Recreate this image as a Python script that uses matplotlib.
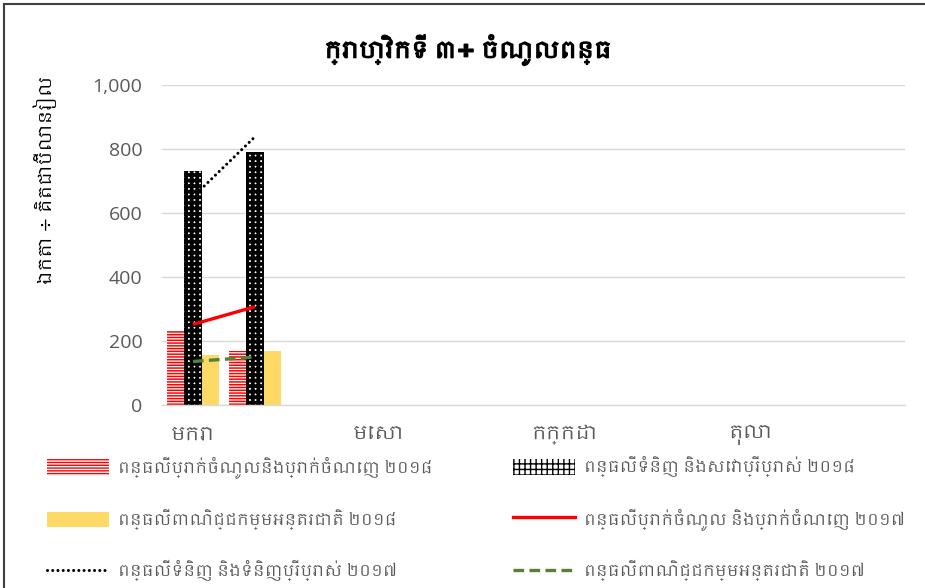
import matplotlib
matplotlib.use("Agg")
import matplotlib.pyplot as plt
from matplotlib import font_manager as fm
from matplotlib import patheffects as pe
from matplotlib.patches import Patch
from matplotlib.lines import Line2D
import numpy as np

# ---------------- data ----------------
months = ["មករា", "កុម្ភៈ", "មីនា", "មេសា", "ឧសភា", "មិថុនា",
          "កក្កដា", "សីហា", "កញ្ញា", "តុលា", "វិច្ឆិកា", "ធ្នូ"]
tick_months = ["មករា", "មេសា", "កក្កដា", "តុលា"]
income_2018 = [235, 170]
goods_2018 = [730, 792]
trade_2018 = [156, 170]
income_2017 = [252, 307]
goods_2017 = [650, 838]
trade_2017 = [136, 150]
y_ticks = [0, 200, 400, 600, 800, 1000]
title = "ក្រាហ្វិកទី ៣÷ ចំណូលពន្ធ"
ylabel = "ឯកតា ÷ គិតជាប៊ីលានរៀល"
labels = [
    "ពន្ធលើប្រាក់ចំណូលនិងប្រាក់ចំណេញ ២០១៨",
    "ពន្ធលើទំនិញ និងសេវាប្រើប្រាស់ ២០១៨",
    "ពន្ធលើពាណិជ្ជកម្មអន្តរជាតិ ២០១៨",
    "ពន្ធលើប្រាក់ចំណូល និងប្រាក់ចំណេញ ២០១៧",
    "ពន្ធលើទំនិញ និងទំនិញប្រើប្រាស់ ២០១៧",
    "ពន្ធលើពាណិជ្ជកម្មអន្តរជាតិ ២០១៧",
]

# ---------------- fonts ----------------
khmer = None
for f in fm.fontManager.ttflist:
    if "khmer" in f.name.lower() or "khmer" in f.fname.lower():
        khmer = f.name
        break
kh_family = [khmer, "DejaVu Sans"] if khmer else ["DejaVu Sans"]
plt.rcParams["font.family"] = kh_family

GRAY = "#595959"
RED = "#FF0000"
YELLOW = "#FFD966"
GREEN = "#548235"
HLW_RED = 1.1
HLW_BLK = 2.7


def set_hlw(artist, lw):
    try:
        artist.set_hatch_linewidth(lw)
    except AttributeError:
        pass


fig = plt.figure(figsize=(9.25, 5.88), dpi=100)
ax = fig.add_axes([162 / 925, 1 - 405 / 588, (905 - 162) / 925, 320 / 588])

x = np.arange(len(income_2018))
w = 0.283

with plt.rc_context({"hatch.linewidth": HLW_RED}):
    b1 = ax.bar(x - w, income_2018, w, facecolor="white", edgecolor=RED,
                hatch="------", linewidth=0, zorder=2)
for p in b1:
    set_hlw(p, HLW_RED)
with plt.rc_context({"hatch.linewidth": HLW_BLK}):
    b2 = ax.bar(x, goods_2018, w, facecolor="white", edgecolor="black",
                hatch="+++", linewidth=0, zorder=2)
for p in b2:
    set_hlw(p, HLW_BLK)
b3 = ax.bar(x + w, trade_2018, w, color=YELLOW, linewidth=0, zorder=2)

ax.plot(x, income_2017, color=RED, lw=2.4, zorder=3, solid_capstyle="butt")
ax.plot(x, goods_2017, color="black", lw=2.2, linestyle=(0, (0.01, 1.7)),
        dash_capstyle="round", zorder=3)
ax.plot(x, trade_2017, color=GREEN, lw=2.4, linestyle=(0, (3.2, 1.6)),
        zorder=3)

ax.set_xlim(-0.5, len(months) - 0.5)
ax.set_ylim(0, 1000)
ax.set_yticks(y_ticks)
ax.set_yticklabels([f"{v:,}" for v in y_ticks], fontfamily=["Open Sans", "DejaVu Sans"],
                   fontsize=14, color=GRAY)
tick_pos = [months.index(m) for m in tick_months]
ax.set_xticks(tick_pos)
ax.set_xticklabels(tick_months, fontsize=14, color=GRAY)
ax.tick_params(axis="y", length=0, pad=14)
ax.tick_params(axis="x", length=0, pad=14)
ax.grid(axis="y", color="#D9D9D9", lw=1.0, zorder=0)
ax.set_axisbelow(True)
for s in ["top", "right", "left"]:
    ax.spines[s].set_visible(False)
ax.spines["bottom"].set_color("#D9D9D9")
ax.spines["bottom"].set_linewidth(1.0)

fig.text(468 / 925, 1 - 50 / 588, title, ha="center", va="center",
         fontsize=16.5, fontweight="bold", color="black",
         path_effects=[pe.withStroke(linewidth=1.0, foreground="black")])
fig.text(45 / 925, 1 - 180 / 588, ylabel, ha="center", va="center",
         rotation=90, fontsize=13, color="black")

# ---------------- legend ----------------
with plt.rc_context({"hatch.linewidth": HLW_RED}):
    h1 = Patch(facecolor="white", edgecolor=RED, hatch="------", linewidth=0)
set_hlw(h1, HLW_RED)
with plt.rc_context({"hatch.linewidth": HLW_BLK}):
    h2 = Patch(facecolor="white", edgecolor="black", hatch="+++", linewidth=0)
set_hlw(h2, HLW_BLK)
h3 = Patch(facecolor=YELLOW, linewidth=0)
h4 = Line2D([], [], color=RED, lw=2.4)
h5 = Line2D([], [], color="black", lw=2.2, linestyle=(0, (0.01, 1.7)),
            dash_capstyle="round")
h6 = Line2D([], [], color=GREEN, lw=2.4, linestyle=(0, (3.2, 1.6)))
handles = [h1, h2, h3, h4, h5, h6]

fs = 11.3
px = fs * 100 / 72
common = dict(frameon=False, fontsize=fs, labelcolor=GRAY, handlelength=62 / px,
              handleheight=18 / px, handletextpad=9 / px,
              labelspacing=1.95, borderpad=0, borderaxespad=0, loc="upper left")
fig.legend([handles[0], handles[2], handles[4]], [labels[0], labels[2], labels[4]],
           bbox_to_anchor=(47 / 925, 1 - 456 / 588), **common)
fig.legend([handles[1], handles[3], handles[5]], [labels[1], labels[3], labels[5]],
           bbox_to_anchor=(513 / 925, 1 - 456 / 588), **common)

# chart border (top and left visible)
fig.add_artist(Line2D([4 / 925, 4 / 925], [0, 1 - 4 / 588], color="#404040", lw=1.5,
                      transform=fig.transFigure))
fig.add_artist(Line2D([4 / 925, 1], [1 - 4 / 588, 1 - 4 / 588], color="#404040", lw=1.5,
                      transform=fig.transFigure))

fig.savefig("out.png", dpi=100)
